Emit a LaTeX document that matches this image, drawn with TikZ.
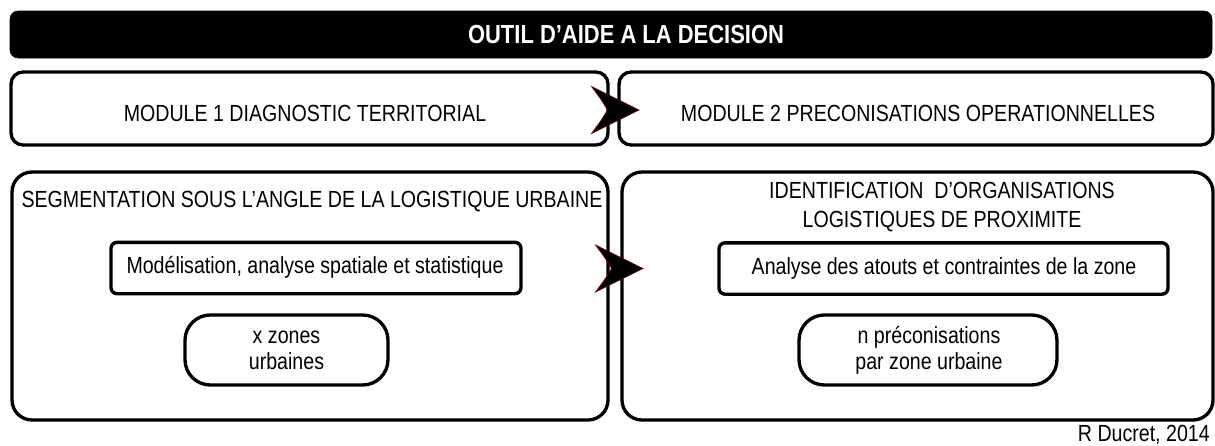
\documentclass[tikz,border=0pt]{standalone}
\usepackage{fontspec}
\setmainfont{Liberation Sans}[FakeStretch=0.84]
\usetikzlibrary{calc}
\tikzset{
  boxline/.style={draw=black,line width=2.5pt},
  titlebar/.style={fill=black,draw=black,rounded corners=6pt,minimum width=901.5pt,minimum height=35.25pt,inner sep=0pt},
  modbox/.style={boxline,fill=white,rounded corners=9pt,minimum height=54.75pt,inner sep=0pt},
  bigbox/.style={boxline,rounded corners=15pt,minimum height=186pt,inner sep=0pt},
  rectbox/.style={boxline,rounded corners=4.5pt,minimum height=38.5pt,inner sep=0pt},
  pillbox/.style={boxline,rounded corners=19pt,minimum height=52.5pt,inner sep=0pt},
  txt/.style={inner sep=0pt,font=\fontsize{17.5}{19.5}\selectfont,align=center},
  chev/.pic={\filldraw[fill=black,draw=red!45!black,line width=0.5pt]
     (-24,-23.5) -- (23.5,0) -- (-24,23.5)
     .. controls (-14,10) .. (-8,0)
     .. controls (-14,-10) .. (-24,-23.5) -- cycle;}
}
\begin{document}
\begin{tikzpicture}[x=0.75pt,y=-0.75pt]
\useasboundingbox (0,0) rectangle (1215,446);
% title
\node[titlebar] (title) at (611,34.5) {};
\node[txt,text=white,font=\fontsize{19.6}{22}\bfseries] (titletxt) at (626,35) {OUTIL D’AIDE A LA DECISION};
% modules
\node[modbox,minimum width=447.75pt] (m1) at (309.5,108.5) {};
\node[modbox,minimum width=445.5pt] (m2) at (916,108.5) {};
\node[txt] (m1t) at (305,113.5) {MODULE 1 DIAGNOSTIC TERRITORIAL};
\node[txt] (m2t) at (918,113.5) {MODULE 2 PRECONISATIONS OPERATIONNELLES};
% lower boxes
\node[bigbox,minimum width=447pt] (b1) at (310,296) {};
\node[bigbox,minimum width=443.25pt] (b2) at (917.5,296) {};
\node[txt] (segt) at (312,202) {SEGMENTATION SOUS L’ANGLE DE LA LOGISTIQUE URBAINE};
\node[txt,font=\fontsize{17.5}{21.75}\selectfont] (idt) at (942,207.5) {IDENTIFICATION\ \ D’ORGANISATIONS\\LOGISTIQUES DE PROXIMITE};
\node[rectbox,minimum width=307.5pt] (mod) at (316,268) {};
\node[txt] (modt) at (315,267) {Modélisation, analyse spatiale et statistique};
\node[pillbox,minimum width=152.25pt] (xz) at (286.5,350) {};
\node[txt] (xzt) at (286.5,350) {x zones\\urbaines};
\node[rectbox,minimum width=336.75pt] (an) at (943.5,268.5) {};
\node[txt] (ant) at (944,268) {Analyse des atouts et contraintes de la zone};
\node[pillbox,minimum width=193.5pt] (np) at (928,350) {};
\node[txt] (npt) at (929,350) {n préconisations\\par zone urbaine};
% arrows
\pic at ($(m1.east)!0.5!(m2.west)+(2,1.5)$) {chev};
\pic at ($(b1.east)!0.5!(b2.west)+(4.5,-27.5)$) {chev};
% credit
\node[txt,anchor=east] (credit) at (1210,434.5) {R Ducret, 2014};
\end{tikzpicture}
\end{document}
